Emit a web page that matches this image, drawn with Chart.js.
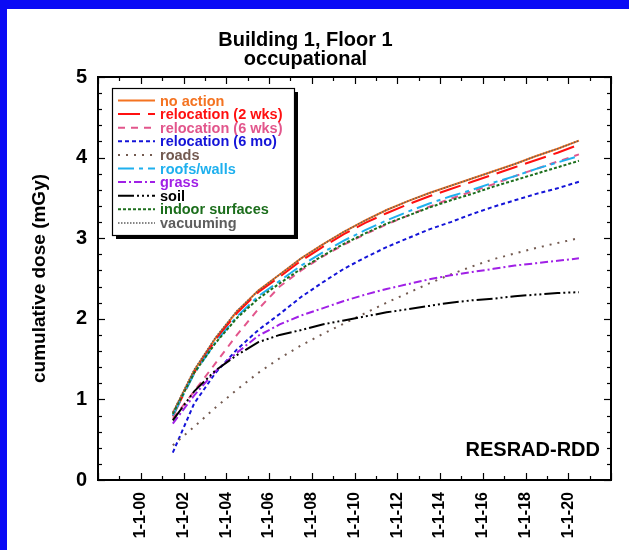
<!DOCTYPE html>
<html>
<head>
<meta charset="utf-8">
<script src="https://cdn.jsdelivr.net/npm/chart.js@4/dist/chart.umd.min.js"></script>
<style>
  html, body { margin: 0; padding: 0; background: #fff; }
  #wrap { position: relative; width: 629px; height: 550px; overflow: hidden; background: #fff; }
  #wrap canvas { position: absolute; left: 0; top: 0; }
  .band-top { position: absolute; left: 0; top: 0; width: 629px; height: 9px; background: #0a0af5; }
  .band-left { position: absolute; left: 0; top: 0; width: 7px; height: 550px; background: #0a0af5; }
</style>
</head>
<body>
<div id="wrap">
  <canvas id="c" width="629" height="550"></canvas>
  <div class="band-top"></div>
  <div class="band-left"></div>
</div>
<script>
// Time of each calculation point (decimal year)
const years = [2001.5, 2002.5, 2003.5, 2004.5, 2005.5, 2006.5, 2007.5, 2008.5, 2009.5, 2010.5,
               2011.5, 2012.5, 2013.5, 2014.5, 2015.5, 2016.5, 2017.5, 2018.5, 2019.5, 2020.5];

// Cumulative dose (mGy) for each scenario
const noAction       = [0.83, 1.36, 1.76, 2.09, 2.35, 2.55, 2.75, 2.92, 3.08, 3.22, 3.35, 3.46, 3.56, 3.65, 3.74, 3.83, 3.92, 4.02, 4.11, 4.21];
const reloc2wks      = [0.79, 1.33, 1.74, 2.07, 2.33, 2.52, 2.72, 2.89, 3.05, 3.19, 3.31, 3.42, 3.52, 3.61, 3.70, 3.79, 3.88, 3.97, 4.06, 4.16];
const reloc6wks      = [0.76, 1.10, 1.45, 1.80, 2.12, 2.40, 2.60, 2.77, 2.92, 3.05, 3.17, 3.28, 3.39, 3.49, 3.58, 3.67, 3.77, 3.86, 3.95, 4.04];
const reloc6mo       = [0.34, 0.95, 1.33, 1.62, 1.86, 2.06, 2.27, 2.45, 2.62, 2.76, 2.89, 3.00, 3.11, 3.20, 3.30, 3.39, 3.47, 3.55, 3.62, 3.70];
const roads          = [0.43, 0.66, 0.90, 1.12, 1.33, 1.51, 1.67, 1.81, 1.94, 2.07, 2.20, 2.32, 2.44, 2.55, 2.65, 2.74, 2.81, 2.88, 2.94, 3.00];
const roofsWalls     = [0.80, 1.32, 1.71, 2.03, 2.28, 2.47, 2.66, 2.82, 2.97, 3.10, 3.22, 3.33, 3.43, 3.52, 3.60, 3.69, 3.77, 3.86, 3.94, 4.02];
const grass          = [0.70, 1.05, 1.35, 1.58, 1.79, 1.93, 2.04, 2.13, 2.22, 2.30, 2.37, 2.43, 2.49, 2.54, 2.58, 2.62, 2.66, 2.69, 2.72, 2.75];
const soil           = [0.74, 1.10, 1.36, 1.55, 1.71, 1.80, 1.86, 1.93, 1.98, 2.03, 2.08, 2.12, 2.16, 2.20, 2.23, 2.25, 2.28, 2.30, 2.32, 2.33];
const indoorSurfaces = [0.82, 1.33, 1.70, 2.01, 2.25, 2.44, 2.62, 2.78, 2.93, 3.06, 3.18, 3.28, 3.38, 3.47, 3.55, 3.64, 3.72, 3.80, 3.88, 3.96];
const vacuuming      = [0.84, 1.37, 1.77, 2.10, 2.35, 2.55, 2.75, 2.92, 3.08, 3.22, 3.35, 3.46, 3.56, 3.65, 3.74, 3.83, 3.92, 4.02, 4.11, 4.21];

// Scenario names, in legend order
const seriesNames = ['no action', 'relocation (2 wks)', 'relocation (6 wks)', 'relocation (6 mo)', 'roads',
                     'roofs/walls', 'grass', 'soil', 'indoor surfaces', 'vacuuming'];
const seriesValues = [noAction, reloc2wks, reloc6wks, reloc6mo, roads, roofsWalls, grass, soil, indoorSurfaces, vacuuming];

// Axis settings
const yMin = 0, yMax = 5, yMajorStep = 1, yMinorStep = 0.2;
const xMin = 1998, xMax = 2022;
const xLabelYears = [2000, 2002, 2004, 2006, 2008, 2010, 2012, 2014, 2016, 2018, 2020];

const FONT = '"Liberation Sans", Arial, Helvetica, sans-serif';

const styles = [
  { color: '#f47321', dash: [],                         width: 2 },
  { color: '#ff1010', dash: [22, 8],                    width: 2 },
  { color: '#e2568c', dash: [7, 6],                     width: 2 },
  { color: '#1414d8', dash: [4, 3],                     width: 2 },
  { color: '#735a50', dash: [2, 6],                     width: 2 },
  { color: '#1fb0ee', dash: [16, 5, 4, 5],              width: 2 },
  { color: '#a020e6', dash: [8, 3, 2, 3],               width: 2 },
  { color: '#000000', dash: [16, 3, 2, 3, 2, 3, 2, 3],  width: 2 },
  { color: '#1c6e1c', dash: [3, 2],                     width: 2 },
  { color: '#5e5e5e', dash: [1.5, 1.5],                 width: 1.5 }
];

const datasets = seriesNames.map((name, i) => ({
  label: name,
  data: years.map((yr, k) => ({ x: yr, y: seriesValues[i][k] })),
  borderColor: styles[i].color,
  backgroundColor: styles[i].color,
  borderDash: styles[i].dash,
  borderWidth: styles[i].width,
  pointRadius: 0,
  tension: 0,
  fill: false,
  order: seriesNames.length - 1 - i
}));

// Frame, inward tick marks, boxed legend with shadow and the model label
const framePlugin = {
  id: 'framePlugin',
  afterDatasetsDraw(chart) {
    const { ctx, chartArea: a, scales: { x, y } } = chart;
    ctx.save();
    ctx.strokeStyle = '#000';
    ctx.lineWidth = 1.2;
    const seg = (x1, y1, x2, y2) => { ctx.beginPath(); ctx.moveTo(x1, y1); ctx.lineTo(x2, y2); ctx.stroke(); };

    const nY = Math.round((yMax - yMin) / yMinorStep);
    for (let i = 0; i <= nY; i++) {
      const v = yMin + i * yMinorStep;
      const py = Math.round(y.getPixelForValue(v)) + 0.5;
      const major = i % Math.round(yMajorStep / yMinorStep) === 0;
      const len = major ? 7 : 4;
      seg(a.left, py, a.left + len, py);
      seg(a.right, py, a.right - len, py);
    }
    for (let yr = xMin; yr <= xMax; yr++) {
      const px = Math.round(x.getPixelForValue(yr)) + 0.5;
      const len = yr % 2 === 0 ? 7 : 4;
      seg(px, a.bottom, px, a.bottom - len);
      seg(px, a.top, px, a.top + len);
    }

    ctx.lineWidth = 2;
    ctx.strokeRect(a.left, a.top, a.right - a.left, a.bottom - a.top);

    // Legend
    const bx = a.left + 14, by = a.top + 11, bw = 182, bh = 147;
    ctx.fillStyle = '#000';
    ctx.fillRect(bx + 4, by + 4, bw, bh);
    ctx.fillStyle = '#fff';
    ctx.fillRect(bx, by, bw, bh);
    ctx.lineWidth = 1.2;
    ctx.strokeRect(bx + 0.5, by + 0.5, bw, bh);

    ctx.font = 'bold 14.5px ' + FONT;
    ctx.textBaseline = 'middle';
    ctx.textAlign = 'left';
    chart.data.datasets.forEach((ds, i) => {
      const ry = by + 12.5 + i * 13.6;
      ctx.save();
      ctx.strokeStyle = ds.borderColor;
      ctx.lineWidth = ds.borderWidth;
      ctx.setLineDash(ds.borderDash);
      seg(bx + 6, ry, bx + 43, ry);
      ctx.restore();
      ctx.fillStyle = ds.borderColor;
      ctx.fillText(ds.label, bx + 48, ry + 1);
    });

    ctx.fillStyle = '#000';
    ctx.font = 'bold 20px ' + FONT;
    ctx.textAlign = 'right';
    ctx.textBaseline = 'alphabetic';
    ctx.fillText('RESRAD-RDD', a.right - 11, a.bottom - 24);
    ctx.restore();
  }
};

new Chart(document.getElementById('c'), {
  type: 'line',
  data: { datasets },
  options: {
    responsive: false,
    animation: false,
    devicePixelRatio: 1,
    layout: { padding: { top: 0, left: 0, right: 18, bottom: 0 } },
    plugins: {
      legend: { display: false },
      tooltip: { enabled: false },
      title: {
        display: true,
        text: ['Building 1, Floor 1', 'occupational'],
        color: '#000',
        font: { family: FONT, size: 20, weight: 'bold', lineHeight: 0.95 },
        padding: { top: 31, bottom: 8 }
      }
    },
    scales: {
      x: {
        type: 'linear',
        min: xMin,
        max: xMax,
        grid: { display: false, drawTicks: false },
        border: { display: false },
        afterFit: s => { s.height = 70; s.paddingLeft = 0; s.paddingRight = 0; },
        afterBuildTicks: s => { s.ticks = []; for (let yr = xMin; yr <= xMax; yr++) s.ticks.push({ value: yr }); },
        ticks: {
          autoSkip: false,
          minRotation: 90,
          maxRotation: 90,
          padding: 12,
          color: '#000',
          font: { family: FONT, size: 16, weight: 'bold' },
          callback: v => xLabelYears.includes(v) ? '1-1-' + String(v % 100).padStart(2, '0') : ''
        }
      },
      y: {
        min: yMin,
        max: yMax,
        grid: { display: false, drawTicks: false },
        border: { display: false },
        afterFit: s => { s.width = 98; },
        ticks: {
          stepSize: yMajorStep,
          padding: 11,
          color: '#000',
          font: { family: FONT, size: 20, weight: 'bold' }
        },
        title: {
          display: true,
          text: 'cumulative dose (mGy)',
          color: '#000',
          font: { family: FONT, size: 19, weight: 'bold' },
          padding: { top: 28, bottom: 0 }
        }
      }
    }
  },
  plugins: [framePlugin]
});
</script>
</body>
</html>
